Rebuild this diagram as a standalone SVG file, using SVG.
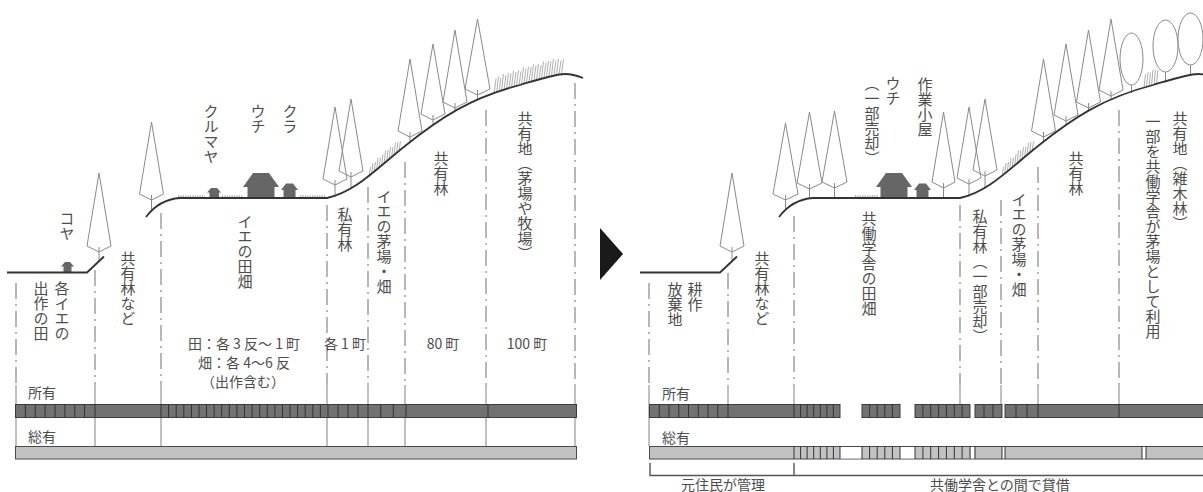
<svg xmlns="http://www.w3.org/2000/svg" width="1203" height="492" viewBox="0 0 1203 492">
  <defs>
    <style>
      text { font-family: "Noto Sans CJK JP", "Noto Sans", sans-serif; fill: #4d4d4d; }
      .v { writing-mode: vertical-rl; font-size: 15px; }
      .h { font-size: 14px; text-anchor: middle; }
      .lb { font-size: 14px; }
      .ground { fill: none; stroke: #333; stroke-width: 1.8; }
      .cf { fill: none; stroke: #8a8a8a; stroke-width: 1; stroke-linejoin: round; }
      .dc { fill: #fff; stroke: #8a8a8a; stroke-width: 1; }
      .tk { fill: none; stroke: #8a8a8a; stroke-width: 1; }
      .grass { fill: none; stroke: #9a9a9a; stroke-width: 0.8; }
      .field { fill: none; stroke: #b0b0b0; stroke-width: 3; stroke-dasharray: 1.2 1.2; }
      .house { fill: #666; }
      .dv { fill: none; stroke: #a6a6a6; stroke-width: 1.6; stroke-dasharray: 16 5 2 5; }
      .sv { fill: none; stroke: #a6a6a6; stroke-width: 1.4; }
      .own { fill: #727272; stroke: #3c3c3c; stroke-width: 1; }
      .com { fill: #c1c2c4; stroke: #4a4a4a; stroke-width: 1; }
      .cell { fill: none; stroke: #333; stroke-width: 1; }
      .gap { fill: #fff; }
      .brk { fill: none; stroke: #555; stroke-width: 1.4; }
    </style>
    <!-- ground profile shared by both cross-sections -->
    <path id="ground" d="M7,272.5 H87 L104,256.5 M146,217 C155,205 165,199 180,198 H327 C355,192 375,170 405,146 C440,118 470,98 520,85 C540,79 555,74 565,74 C572,74 578,76 583,78"/>
    <!-- grass tufts on the lower slope -->
    <path id="grassA" d="M369,177 l1.5,-10 M371.5,175 l1.5,-12 M374,173 l1.5,-11 M376.5,170.7 l1.5,-13 M379,168.6 l1.5,-11 M381.5,166.4 l1.5,-12 M384,164.3 l1.5,-14 M386.5,162 l1.5,-12 M389,160 l1.5,-13 M391.5,157.9 l1.5,-11 M394,155.7 l1.5,-13 M396.5,153.6 l1.5,-12 M399,151.4 l1.5,-10"/>
  </defs>

  <!-- ===== before ===== -->
  <g id="before">
    <g id="before-dividers">
      <path class="dv" d="M16,283 V385 M95,270 V385 M161,213 V385 M327,205 V385 M368,187 V385 M405,162 V385 M486,110 V385 M575,83 V385"/>
      <path class="sv" d="M16,385 V446 M95,385 V446 M161,385 V446 M327,385 V446 M368,385 V446 M405,385 V446 M486,385 V446 M575,385 V446"/>
    </g>

    <g id="before-grass">
      <use href="#grassA" class="grass"/>
      <path class="grass" d="M494,93.6 l2,-15 M496.5,92.7 l2,-16 M499,91.8 l2,-14 M501.5,91 l2,-17 M504,90.1 l2,-15 M506.5,89.2 l2,-16 M509,88.4 l2,-15 M511.5,87.6 l2,-17 M514,87 l2,-15 M516.5,86.1 l2,-16 M519,85.3 l2,-14 M521.5,84.5 l2,-17 M524,83.6 l2,-15 M526.5,82.7 l2,-16 M529,82 l2,-15 M531.5,81.2 l2,-17 M534,80.5 l2,-15 M536.5,79.8 l2,-16 M539,79.1 l2,-14 M541.5,78.4 l2,-17 M544,77.7 l2,-15 M546.5,77 l2,-16 M549,76.4 l2,-15 M551.5,75.8 l2,-17 M554,75.3 l2,-15 M556.5,74.9 l2,-16 M559,74.5 l2,-14 M561.5,74.2 l2,-15"/>
    </g>

    <g id="before-trees">
      <path class="cf" d="M99,173 L111,246 L99,252 L87,246 Z"/>
      <path class="tk" d="M99,247 V261"/>
      <path class="cf" d="M151.5,122 L163.5,194 L151.5,200 L139.5,194 Z"/>
      <path class="tk" d="M151.5,195 V210"/>
      <path class="cf" d="M335,107 L347,179 L335,185 L323,179 Z"/>
      <path class="tk" d="M335,180 V197"/>
      <path class="cf" d="M351,99 L363,171 L351,177 L339,171 Z"/>
      <path class="tk" d="M351,172 V189"/>
      <path class="cf" d="M410,59 L422,131 L410,137 L398,131 Z"/>
      <path class="tk" d="M410,132 V142"/>
      <path class="cf" d="M433,44 L445,114 L433,120 L421,114 Z"/>
      <path class="tk" d="M433,115 V125"/>
      <path class="cf" d="M455,30 L467,102 L455,108 L443,102 Z"/>
      <path class="tk" d="M455,103 V111"/>
      <path class="cf" d="M477.5,19 L490,89 L477.5,95 L465,89 Z"/>
      <path class="tk" d="M477.5,90 V100"/>
    </g>

    <g id="before-fields">
      <path class="field" d="M178,196.8 H205 M222,196.8 H243 M300,196.8 H325"/>
    </g>

    <g id="before-houses">
      <path class="house" d="M61,266.5 L65,262 H70 L74,266.5 H71.5 V272 H63.5 V266.5 Z"/>
      <path class="house" d="M207,192.5 L211,188 H217 L221,192.5 H219 V198 H209.5 V192.5 Z"/>
      <path class="house" d="M243,187 L253,173 H269 L279,187 H274.5 V198 H247.5 V187 Z"/>
      <path class="house" d="M281,190 L286,183.5 H293 L298,190 H295.5 V198 H283.5 V190 Z"/>
    </g>

    <use href="#ground" class="ground"/>

    <g id="before-labels">
      <text class="v" x="67" y="211">コヤ</text>
      <text class="v" x="62" y="281">各イエの</text>
      <text class="v" x="41" y="281">出作の田</text>
      <text class="v" x="128" y="251">共有林など</text>
      <text class="v" x="211" y="104">クルマヤ</text>
      <text class="v" x="258" y="104">ウチ</text>
      <text class="v" x="290" y="104">クラ</text>
      <text class="v" x="245" y="214">イエの田畑</text>
      <text class="v" x="345" y="207">私有林</text>
      <text class="v" x="384" y="189">イエの茅場・畑</text>
      <text class="v" x="441" y="151">共有林</text>
      <text class="v" x="525" y="111">共有地（茅場や牧場）</text>
      <text class="h" x="244" y="349">田：各 3 反～ 1 町</text>
      <text class="h" x="244" y="368">畑：各 4～6 反</text>
      <text class="h" x="243" y="387">（出作含む）</text>
      <text class="h" x="345" y="349">各 1 町</text>
      <text class="h" x="443" y="349">80 町</text>
      <text class="h" x="527" y="349">100 町</text>
    </g>

    <g id="before-ownership">
      <text class="lb" x="28" y="398">所有</text>
      <rect class="own" x="15.5" y="404.5" width="561" height="13"/>
      <path class="cell" d="M25.4,404.5 V417.5 M35.3,404.5 V417.5 M45.1,404.5 V417.5 M55,404.5 V417.5 M64.9,404.5 V417.5 M74.8,404.5 V417.5 M84.6,404.5 V417.5 M95,404.5 V417.5
        M161,404.5 V417.5 M168.6,404.5 V417.5 M176.2,404.5 V417.5 M183.8,404.5 V417.5 M191.4,404.5 V417.5 M199,404.5 V417.5 M206.5,404.5 V417.5 M214.1,404.5 V417.5 M221.7,404.5 V417.5 M229.3,404.5 V417.5 M236.9,404.5 V417.5 M244.5,404.5 V417.5 M252.1,404.5 V417.5 M259.7,404.5 V417.5 M267.3,404.5 V417.5 M274.9,404.5 V417.5 M282.5,404.5 V417.5 M290,404.5 V417.5 M297.6,404.5 V417.5 M305.2,404.5 V417.5 M312.8,404.5 V417.5 M320.4,404.5 V417.5 M328,404.5 V417.5
        M338,404.5 V417.5 M348,404.5 V417.5 M358,404.5 V417.5 M368,404.5 V417.5 M380.7,404.5 V417.5 M393.3,404.5 V417.5 M406,404.5 V417.5 M488,404.5 V417.5"/>
      <text class="lb" x="28" y="442">総有</text>
      <rect class="com" x="15.5" y="446.5" width="561" height="12.5"/>
    </g>
  </g>

  <!-- change arrow -->
  <polygon id="arrow" points="600,228 623,254 600,280" fill="#1a1a1a"/>

  <!-- ===== after ===== -->
  <g id="after">
    <g id="after-dividers">
      <path class="dv" d="M649,283 V385 M728,273 V385 M794,216 V385 M960,205 V385 M1001,200 V385 M1038,167 V385 M1119,110 V385"/>
      <path class="sv" d="M649,385 V446 M728,385 V404 M794,385 V404 M960,385 V404 M1001,385 V404 M1038,385 V404 M1119,385 V404"/>
    </g>

    <g id="after-grass">
      <use href="#grassA" class="grass" transform="translate(633,0)"/>
      <path class="grass" d="M1144,88 l1.5,-14 M1146.5,87.2 l1.5,-15 M1149,86.4 l1.5,-14 M1151.5,85.6 l1.5,-16 M1154,84.8 l1.5,-15 M1156.5,84 l1.5,-14"/>
    </g>

    <g id="after-trees">
      <path class="cf" d="M732,173 L744,246 L732,252 L720,246 Z"/>
      <path class="tk" d="M732,247 V262"/>
      <path class="cf" d="M785.5,123 L798,194 L785.5,200 L773,194 Z"/>
      <path class="tk" d="M785.5,195 V209"/>
      <path class="cf" d="M809.5,112 L822,183 L809.5,189 L797,183 Z"/>
      <path class="tk" d="M809.5,184 V198.5"/>
      <path class="cf" d="M834.5,111 L847,182 L834.5,188 L822,182 Z"/>
      <path class="tk" d="M834.5,183 V198"/>
      <path class="cf" d="M943.5,112 L955,182 L943.5,188 L932,182 Z"/>
      <path class="tk" d="M943.5,183 V198"/>
      <path class="cf" d="M969,107 L981,178 L969,184 L957,178 Z"/>
      <path class="tk" d="M969,179 V197"/>
      <path class="cf" d="M985,99 L997,170 L985,176 L973,170 Z"/>
      <path class="tk" d="M985,171 V189"/>
      <path class="cf" d="M1043.5,59 L1055.5,131 L1043.5,137 L1031.5,131 Z"/>
      <path class="tk" d="M1043.5,132 V142"/>
      <path class="cf" d="M1066,44 L1078,115 L1066,121 L1054,115 Z"/>
      <path class="tk" d="M1066,116 V125"/>
      <path class="cf" d="M1088.5,30 L1100.5,102 L1088.5,108 L1076.5,102 Z"/>
      <path class="tk" d="M1088.5,103 V111"/>
      <path class="cf" d="M1111,19 L1123,90 L1111,96 L1099,90 Z"/>
      <path class="tk" d="M1111,91 V100"/>
      <ellipse class="dc" cx="1131.5" cy="59" rx="11.5" ry="26"/>
      <path class="tk" d="M1131.5,85 V93"/>
      <ellipse class="dc" cx="1165.5" cy="46" rx="12.5" ry="26"/>
      <path class="tk" d="M1165.5,72 V81"/>
      <ellipse class="dc" cx="1190.5" cy="39" rx="12.5" ry="26"/>
      <path class="tk" d="M1190.5,65 V75"/>
    </g>

    <g id="after-fields">
      <path class="field" d="M855,196.8 H878"/>
    </g>

    <g id="after-houses">
      <path class="house" d="M876,187 L886,173 H902 L912,187 H907.5 V198 H880.5 V187 Z"/>
      <path class="house" d="M914,190 L919,183.5 H926 L931,190 H928.5 V198 H916.5 V190 Z"/>
    </g>

    <use href="#ground" class="ground" transform="translate(633,0)"/>

    <g id="after-labels">
      <text class="v" x="695" y="282">耕作</text>
      <text class="v" x="675" y="282">放棄地</text>
      <text class="v" x="762" y="251">共有林など</text>
      <text class="v" x="893" y="76">ウチ</text>
      <text class="v" x="872" y="76">（一部売却）</text>
      <text class="v" x="925" y="77">作業小屋</text>
      <text class="v" x="869" y="211">共働学舎の田畑</text>
      <text class="v" x="980" y="209">私有林（一部売却）</text>
      <text class="v" x="1019" y="192">イエの茅場・畑</text>
      <text class="v" x="1076" y="151">共有林</text>
      <text class="v" x="1180" y="111">共有地（雑木林）</text>
      <text class="v" x="1153" y="114">一部を共働学舎が茅場として利用</text>
    </g>

    <g id="after-ownership">
      <text class="lb" x="662" y="399">所有</text>
      <rect class="own" x="649.5" y="404.5" width="190.5" height="13"/>
      <rect class="own" x="862" y="404.5" width="38" height="13"/>
      <rect class="own" x="915" y="404.5" width="55" height="13"/>
      <rect class="own" x="975" y="404.5" width="27" height="13"/>
      <rect class="own" x="1005" y="404.5" width="205" height="13"/>
      <path class="cell" d="M659.3,404.5 V417.5 M669,404.5 V417.5 M678.8,404.5 V417.5 M688.5,404.5 V417.5 M698.3,404.5 V417.5 M708,404.5 V417.5 M717.8,404.5 V417.5 M728,404.5 V417.5
        M794,404.5 V417.5 M800.6,404.5 V417.5 M807.1,404.5 V417.5 M813.7,404.5 V417.5 M820.3,404.5 V417.5 M826.9,404.5 V417.5 M833.4,404.5 V417.5
        M869.6,404.5 V417.5 M877.2,404.5 V417.5 M884.8,404.5 V417.5 M892.4,404.5 V417.5
        M922.9,404.5 V417.5 M930.7,404.5 V417.5 M938.6,404.5 V417.5 M946.4,404.5 V417.5 M954.3,404.5 V417.5 M962.1,404.5 V417.5
        M984,404.5 V417.5 M993,404.5 V417.5
        M1016,404.5 V417.5 M1027,404.5 V417.5 M1038,404.5 V417.5 M1119,404.5 V417.5"/>

      <text class="lb" x="662" y="443">総有</text>
      <rect class="com" x="649.5" y="446.5" width="560" height="12.5"/>
      <rect class="gap" x="840" y="447" width="22" height="11.5"/>
      <rect class="gap" x="900" y="447" width="15" height="11.5"/>
      <rect class="gap" x="970.5" y="447" width="4" height="11.5"/>
      <rect class="gap" x="1002" y="447" width="3" height="11.5"/>
      <rect class="gap" x="1142" y="447" width="4" height="11.5"/>
      <path class="cell" d="M794,446.5 V459 M800.6,446.5 V459 M807.1,446.5 V459 M813.7,446.5 V459 M820.3,446.5 V459 M826.9,446.5 V459 M833.4,446.5 V459 M840,446.5 V459
        M862,446.5 V459 M869.6,446.5 V459 M877.2,446.5 V459 M884.8,446.5 V459 M892.4,446.5 V459 M900,446.5 V459
        M915,446.5 V459 M922.9,446.5 V459 M930.7,446.5 V459 M938.6,446.5 V459 M946.4,446.5 V459 M954.3,446.5 V459 M962.1,446.5 V459 M970,446.5 V459
        M975,446.5 V459 M1002,446.5 V459 M1005,446.5 V459 M1142,446.5 V459 M1146,446.5 V459"/>

      <path class="brk" d="M650,463 V475.5 H1203 M794,463 V475.5"/>
      <text class="h" x="723" y="490">元住民が管理</text>
      <text class="lb" x="930" y="490">共働学舎との間で貸借</text>
    </g>
  </g>
</svg>
